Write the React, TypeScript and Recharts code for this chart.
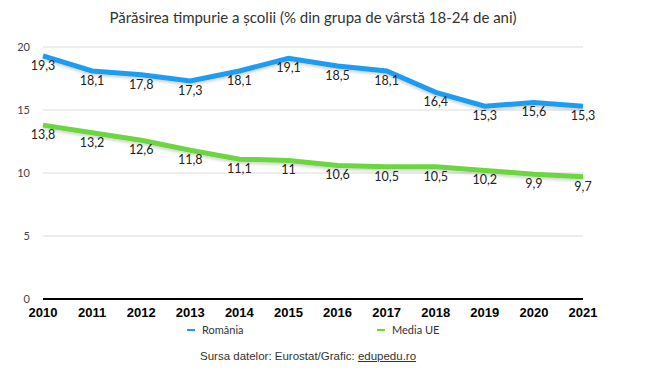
import { LineChart, Line, CartesianGrid, XAxis, YAxis, LabelList } from "recharts";

const years = ["2010", "2011", "2012", "2013", "2014", "2015", "2016", "2017", "2018", "2019", "2020", "2021"];
const romania = [19.3, 18.1, 17.8, 17.3, 18.1, 19.1, 18.5, 18.1, 16.4, 15.3, 15.6, 15.3];
const mediaUE = [13.8, 13.2, 12.6, 11.8, 11.1, 11, 10.6, 10.5, 10.5, 10.2, 9.9, 9.7];
const yTicks = [0, 5, 10, 15, 20];

const data = years.map((year, i) => ({ year, ro: romania[i], ue: mediaUE[i] }));

const fmt = (v: any) => String(v).replace(".", ",");

const BLUE = "#1f9cf2";
const GREEN = "#6cd640";
const label = { fontFamily: "Lato", fontSize: 12.5, fill: "#222" };

export default function App() {
  return (
    <div
      style={{
        position: "absolute",
        left: 0,
        top: 0,
        width: 657,
        height: 374,
        background: "#fff",
        fontFamily: "Lato",
      }}
    >
      <div
        style={{
          position: "absolute",
          top: 8,
          left: 0,
          width: 626,
          textAlign: "center",
          fontSize: 15,
          color: "#333",
        }}
      >
        Părăsirea timpurie a școlii (% din grupa de vârstă 18-24 de ani)
      </div>

      <LineChart
        width={657}
        height={374}
        data={data}
        margin={{ top: 47, right: 74, left: 0, bottom: 45 }}
      >
        <defs>
          <filter id="shadow" x="-5%" y="-50%" width="110%" height="200%">
            <feDropShadow dx="0" dy="2" stdDeviation="1.5" floodColor="#000" floodOpacity="0.18" />
          </filter>
        </defs>
        <CartesianGrid vertical={false} stroke="#dcdcdc" />
        <XAxis
          dataKey="year"
          tickLine={false}
          tickSize={0}
          tickMargin={9}
          axisLine={{ stroke: "#000", strokeWidth: 2 }}
          interval={0}
          tick={{ fontFamily: "Liberation Sans", fontWeight: 700, fontSize: 13, fill: "#000" }}
        />
        <YAxis
          width={43}
          domain={[0, 20]}
          ticks={yTicks}
          tickLine={false}
          axisLine={false}
          tickSize={0}
          tickMargin={13}
          tick={{ fontFamily: "Lato", fontSize: 11, fill: "#444" }}
        />
        <Line
          dataKey="ro"
          stroke={BLUE}
          strokeWidth={5}
          dot={false}
          filter="url(#shadow)"
          isAnimationActive={false}
        >
          <LabelList dataKey="ro" position="bottom" offset={5} formatter={fmt} style={label} />
        </Line>
        <Line
          dataKey="ue"
          stroke={GREEN}
          strokeWidth={5}
          dot={false}
          filter="url(#shadow)"
          isAnimationActive={false}
        >
          <LabelList dataKey="ue" position="bottom" offset={5} formatter={fmt} style={label} />
        </Line>
      </LineChart>

      <div style={{ position: "absolute", top: 323, left: 187, fontSize: 11, color: "#333", display: "flex", alignItems: "center" }}>
        <span style={{ display: "inline-block", width: 8, height: 2, background: BLUE, marginRight: 7 }} />
        România
      </div>
      <div style={{ position: "absolute", top: 323, left: 377, fontSize: 11, color: "#333", display: "flex", alignItems: "center" }}>
        <span style={{ display: "inline-block", width: 8, height: 2, background: GREEN, marginRight: 7 }} />
        Media UE
      </div>

      <div
        style={{
          position: "absolute",
          top: 350,
          left: 200,
          fontFamily: "Liberation Sans",
          fontSize: 11.5,
          color: "#333",
        }}
      >
        Sursa datelor: Eurostat/Grafic: <span style={{ textDecoration: "underline" }}>edupedu.ro</span>
      </div>
    </div>
  );
}
